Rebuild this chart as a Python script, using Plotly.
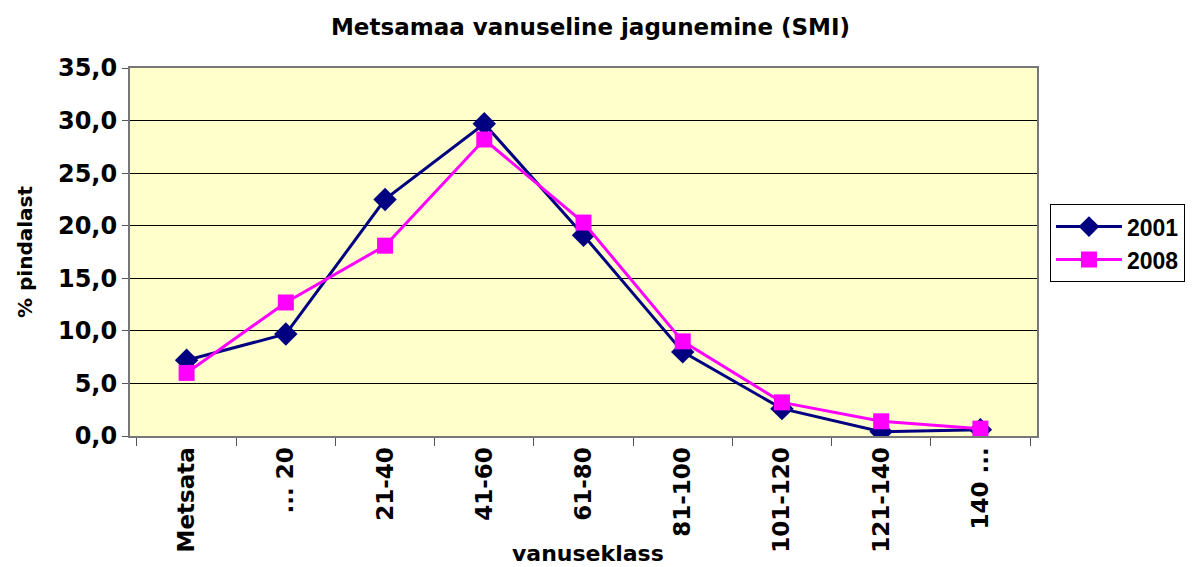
import plotly.graph_objects as go

# age classes and share of forest land (%) per inventory year
classes = ["Metsata", "... 20", "21-40", "41-60", "61-80", "81-100", "101-120", "121-140", "140 ..."]
y2001 = [7.2, 9.7, 22.5, 29.7, 19.1, 8.0, 2.6, 0.4, 0.6]
y2008 = [6.0, 12.7, 18.1, 28.2, 20.3, 9.0, 3.2, 1.4, 0.7]

FONT = "DejaVu Sans, Arial, sans-serif"
ARIAL = "Liberation Sans, Arial, sans-serif"

fig = go.Figure()
fig.add_trace(go.Scatter(
    x=classes, y=y2001, name="<b>2001</b>", mode="lines+markers",
    line=dict(color="#000080", width=3),
    marker=dict(symbol="diamond", size=18, color="#000080"),
))
fig.add_trace(go.Scatter(
    x=classes, y=y2008, name="<b>2008</b>", mode="lines+markers",
    line=dict(color="#FF00FF", width=3),
    marker=dict(symbol="square", size=16, color="#FF00FF"),
))

fig.update_layout(
    width=1193, height=567,
    paper_bgcolor="white", plot_bgcolor="#FFFFCC",
    separators=", ",
    font=dict(family=FONT, size=20, color="black"),
    title=dict(text="<b>Metsamaa vanuseline jagunemine (SMI)</b>",
               x=0.495, xanchor="center", y=0.952, yanchor="middle",
               font=dict(size=23), automargin=False),
    margin=dict(l=130, r=156, t=68, b=131, autoexpand=False),
    legend=dict(x=1.0143, xanchor="left", y=0.524, yanchor="middle",
                bordercolor="black", borderwidth=1, bgcolor="white",
                font=dict(family=ARIAL, size=23), itemwidth=66, tracegroupgap=0),
    annotations=[dict(text="<b>vanuseklass</b>", x=0.505, y=-0.318, xref="paper", yref="paper",
                      xanchor="center", yanchor="middle", showarrow=False,
                      font=dict(size=22))],
)

fig.update_xaxes(
    type="category", tickangle=-90, tickson="boundaries",
    ticks="outside", ticklen=8, tickcolor="#555",
    tickfont=dict(size=23), tickprefix="<b>", ticksuffix="</b>",
    showline=True, linecolor="#777", linewidth=2, mirror=True,
    showgrid=False, automargin=False,
)
fig.update_yaxes(
    range=[0, 35], dtick=5, tickformat=".1f",
    ticks="outside", ticklen=6, tickcolor="#555",
    tickprefix="<b>", ticksuffix="</b>", tickfont=dict(size=24),
    showgrid=True, gridcolor="black", gridwidth=1,
    showline=True, linecolor="#777", linewidth=2, mirror=True,
    title=dict(text="<b>% pindalast</b>", font=dict(size=20), standoff=20),
    zeroline=False, automargin=False,
)

fig.write_html("out.html", config={"displayModeBar": False},
               post_script="document.body.style.margin='0';")
